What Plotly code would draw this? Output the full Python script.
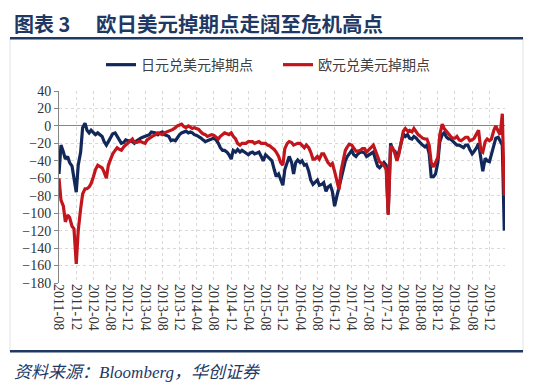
import pandas as pd
import plotly.graph_objects as go

# ---------------- data ----------------
dates = pd.date_range("2011-08-01", "2020-03-15", freq="SMS")

jpy_usd_swap = [
    -55, -22, -30, -38, -35, -42, -46, -58, -76, -45,
    -30, -2, 3, -5, -8, -5, -8, -10, -8, -10,
    -12, -18, -22, -18, -12, -9, -8, -12, -16, -20,
    -19, -16, -17, -17, -18, -20, -17, -15, -14, -13,
    -12, -11, -10, -7, -8, -8, -10, -8, -7, -10,
    -11, -12, -17, -16, -17, -13, -10, -8, -7, -6,
    -8, -7, -8, -10, -11, -12, -14, -16, -18, -17,
    -16, -15, -14, -16, -20, -25, -28, -28, -30, -33,
    -38, -28, -30, -27, -30, -28, -29, -31, -33, -31,
    -30, -32, -31, -30, -35, -40, -33, -35, -37, -40,
    -50, -58, -55, -62, -68, -50, -40, -35, -42, -55,
    -42, -39, -42, -40, -45, -44, -52, -62, -67, -65,
    -62, -68, -67, -65, -75, -70, -68, -75, -92, -82,
    -70, -62, -47, -40, -35, -31, -28, -33, -35, -32,
    -30, -30, -31, -35, -33, -32, -30, -38, -46, -48,
    -44, -42, -45, -100, -20, -27, -29, -37, -30, -20,
    -9, -12, -10, -14, -15, -12, -14, -17, -20, -22,
    -24, -22, -32, -58, -58, -55, -42, -18, -10, -8,
    -13, -15, -15, -17, -20, -22, -22, -23, -25, -22,
    -22, -27, -32, -29, -25, -20, -38, -52, -37, -40,
    -41, -33, -20, -14, -13, -18, -22, -120,
]

eur_usd_swap = [
    -60, -85, -92, -110, -102, -105, -115, -118, -158, -120,
    -95, -78, -72, -72, -70, -66, -58, -50, -45, -46,
    -48, -53, -60, -45, -38, -32, -28, -25, -27, -28,
    -24, -22, -19, -17, -15, -19, -19, -18, -18, -19,
    -20, -16, -14, -12, -11, -10, -8, -9, -10, -8,
    -7, -6, -5, -4, -2, 0, 1, 2, -1, -2,
    0, -2, -3, -2, -3, -4, -7, -9, -10, -12,
    -11, -10, -11, -13, -15, -12, -10, -8, -9, -10,
    -8, -12, -15, -20, -22, -20, -20, -20, -18, -18,
    -18, -20, -19, -18, -20, -20, -20, -22, -23, -25,
    -27, -30, -35, -42, -45, -26, -20, -18, -19, -22,
    -21, -20, -20, -23, -25, -22, -25, -30, -38, -38,
    -35, -38, -32, -32, -37, -42, -45, -43, -52, -60,
    -73, -52, -36, -28, -24, -21, -22, -25, -29, -29,
    -28, -26, -26, -30, -27, -24, -22, -28, -36, -41,
    -43, -45, -50, -102, -23, -25, -32, -40, -32, -20,
    -6, -3, -6, -5, -7, -3, -7, -10, -12, -14,
    -15, -15, -22, -42, -47, -42, -36, -10, 2, -3,
    -7, -10, -12, -14, -14, -12, -16, -17, -15, -13,
    -13, -17, -16, -14, -9, -5, -28, -30, -18, -15,
    -17, -15, -5, 0, -6, -10, 14, -80,
]

x_tick_labels = [
    "2011-08", "2011-12", "2012-04", "2012-08", "2012-12", "2013-04", "2013-08",
    "2013-12", "2014-04", "2014-08", "2014-12", "2015-04", "2015-08", "2015-12",
    "2016-04", "2016-08", "2016-12", "2017-04", "2017-08", "2017-12", "2018-04",
    "2018-08", "2018-12", "2019-04", "2019-08", "2019-12",
]
y_ticks = [40, 20, 0, -20, -40, -60, -80, -100, -120, -140, -160, -180]

series_names = ["日元兑美元掉期点", "欧元兑美元掉期点"]
title_label = "图表 3"
title_text = "欧日美元掉期点走阔至危机高点"
source_text = "资料来源：Bloomberg，华创证券"

assert len(jpy_usd_swap) == len(dates) == len(eur_usd_swap)

# ---------------- layout helpers ----------------
W, H = 548, 387
L, R, T, B = 59, 43, 91, 103.5
PW, PH = W - L - R, H - T - B


def px(x):
    return (x - L) / PW


def py(y):
    return (H - B - y) / PH


NAVY = "#1f3864"
GRID = "#d9d9d9"
AXIS = "#868686"
serif = "Liberation Serif, Times New Roman, serif"
cjk = "Noto Sans CJK SC, sans-serif"

fig = go.Figure()
fig.add_trace(go.Scatter(x=dates, y=jpy_usd_swap, mode="lines", name=series_names[0],
                         line=dict(color="#13285a", width=3.2)))
fig.add_trace(go.Scatter(x=dates, y=eur_usd_swap, mode="lines", name=series_names[1],
                         line=dict(color="#c3151c", width=3.2)))

tickvals = pd.to_datetime([s + "-01" for s in x_tick_labels])

fig.update_layout(
    width=W, height=H,
    margin=dict(l=L, r=R, t=T, b=B),
    paper_bgcolor="white", plot_bgcolor="white",
    showlegend=True,
    legend=dict(orientation="h", x=px(101), xanchor="left", y=py(65), yanchor="middle",
                font=dict(family=cjk, size=14, color="#404040"),
                entrywidth=132, entrywidthmode="pixels",
                itemwidth=30, bgcolor="rgba(0,0,0,0)"),
    xaxis=dict(
        range=["2011-08-01", "2020-03-20"],
        tickvals=tickvals, ticktext=x_tick_labels, tickangle=90,
        tickfont=dict(family=serif, size=14, color="#333333"),
        showgrid=True, gridcolor=GRID, griddash="dot", gridwidth=1,
        showline=False, zeroline=False, ticks="",
    ),
    xaxis2=dict(
        overlaying="x", matches="x", anchor="free", position=180 / 220,
        tickvals=tickvals, ticks="outside", ticklen=4, tickcolor=AXIS,
        showticklabels=False, showgrid=False, showline=True, linecolor=AXIS, linewidth=1,
        zeroline=False,
    ),
    yaxis=dict(
        range=[-180, 40], tickvals=y_ticks,
        tickfont=dict(family=serif, size=14, color="#333333"),
        showgrid=True, gridcolor=GRID, griddash="dot", gridwidth=1,
        showline=True, linecolor=AXIS, linewidth=1,
        ticks="outside", ticklen=4, tickcolor=AXIS,
        zeroline=True, zerolinecolor=AXIS, zerolinewidth=1,
    ),
    shapes=[
        dict(type="rect", xref="paper", yref="paper", x0=px(10), x1=px(523), y0=py(38), y1=py(352),
             line=dict(color="#dfe3ea", width=1), layer="below"),
        dict(type="line", xref="paper", yref="paper", x0=px(10), x1=px(523), y0=py(38), y1=py(38),
             line=dict(color=NAVY, width=2.5)),
        dict(type="line", xref="paper", yref="paper", x0=px(10), x1=px(523), y0=py(352), y1=py(352),
             line=dict(color=NAVY, width=2.5)),
    ],
    annotations=[
        dict(text="<b>" + title_label + "</b>", xref="paper", yref="paper", x=px(12), y=py(23),
             xanchor="left", yanchor="middle", showarrow=False,
             font=dict(family=cjk, size=20, color=NAVY)),
        dict(text="<b>" + title_text + "</b>", xref="paper", yref="paper", x=px(94), y=py(23),
             xanchor="left", yanchor="middle", showarrow=False,
             font=dict(family=cjk, size=20.5, color=NAVY)),
        dict(text="<i>" + source_text + "</i>", xref="paper", yref="paper", x=px(12), y=py(373),
             xanchor="left", yanchor="middle", showarrow=False,
             font=dict(family=serif + ", " + cjk, size=17, color=NAVY)),
    ],
)

fig.write_html("out.html", config={"displayModeBar": False},
               post_script="document.body.style.margin='0px';")
